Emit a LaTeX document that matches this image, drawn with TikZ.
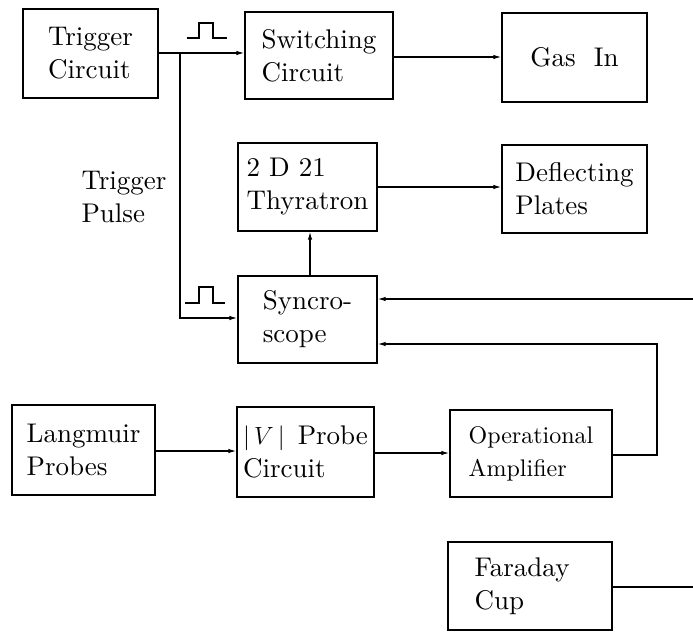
\documentclass[tikz,border=0pt]{standalone}
\usepackage{fontspec}
\setmainfont{lmroman10-regular.otf}
\usetikzlibrary{arrows.meta}
\begin{document}
\begin{tikzpicture}[
  x=1pt,y=-1pt,
  every node/.style={font=\fontsize{27}{33}\selectfont},
  blk/.style={draw,line width=1.4pt,align=left,inner sep=0pt},
  conn/.style={line width=1.2pt},
  arr/.style={conn,-{Latex[length=8pt,width=4.5pt]}}]
  \useasboundingbox (0,0) rectangle (693,634);
  % upper row: trigger, switching valve, gas inlet
  \node[blk,minimum width=135,minimum height=89] (trig) at (90.5,53.5) {Trigger\\Circuit};
  \node[blk,minimum width=148,minimum height=87] (swi) at (319,55.5) {Switching\\Circuit};
  \node[blk,minimum width=145,minimum height=89] (gas) at (574.5,57.5) {Gas\ \ In};

  % timing chain
  \node[blk,minimum width=139,minimum height=88] (thy) at (307.5,187) {2~D~21\\Thyratron};
  \node[blk,minimum width=145,minimum height=88] (defl) at (574.5,189) {Deflecting\\Plates};
  \node[blk,minimum width=139,minimum height=87] (sync) at (307.5,319.5) {Syncro-\\scope};
  \node[align=left] (tplabel) at (124,197) {Trigger\\Pulse};

  % probe signal chain
  \node[blk,minimum width=143,minimum height=90] (lang) at (83.5,450) {Langmuir\\Probes};
  \node[blk,minimum width=137,minimum height=90] (probe) at (305.5,452) {$|\,V\,|$\hspace{13pt}Probe\\Circuit};
  \node[blk,minimum width=162,minimum height=87,font=\fontsize{24}{33}\selectfont] (opamp) at (531,453.5) {Operational\\Amplifier};
  \node[blk,minimum width=164,minimum height=88] (fara) at (530,586) {Faraday\hspace*{16pt}\\Cup};

  % free ends and bends
  \coordinate (split) at (180,53);
  \coordinate (inA) at (693,299);
  \coordinate (bendB) at (657,344);
  \coordinate (outC) at (693,587);

  \draw[arr] (trig.east |- split) -- (split -| swi.west);
  \draw[arr] (split) |- (sync.west |- 0,318);
  \draw[arr] (swi.east |- 0,57) -- (gas.west |- 0,57);
  \draw[arr] (sync.north -| 310,0) -- (thy.south -| 310,0);
  \draw[arr] (thy.east) -- (defl.west |- thy.east);
  \draw[arr] (inA) -- (sync.east |- inA);
  \draw[arr] (opamp.east |- 0,455) -| (bendB) -- (sync.east |- bendB);
  \draw[arr] (lang.east |- 0,451) -- (probe.west |- 0,451);
  \draw[arr] (probe.east |- 0,453) -- (opamp.west |- 0,453);
  \draw[conn] (fara.east |- outC) -- (outC);

  % pulse marks
  \draw[conn] (187,38) -- (199,38) -- (199,23) -- (213,23) -- (213,38) -- (227,38);
  \draw[conn] (185,303) -- (199,303) -- (199,287) -- (213,287) -- (213,303) -- (225,303);
\end{tikzpicture}
\end{document}
